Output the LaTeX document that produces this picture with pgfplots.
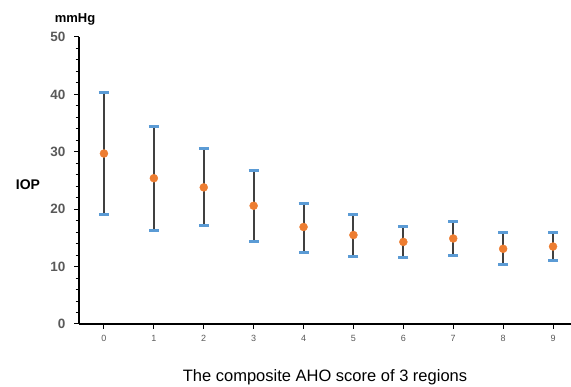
\documentclass[border=0pt]{standalone}
\usepackage{fontspec}
\setmainfont{Liberation Sans}
\usepackage{pgfplots}
\pgfplotsset{compat=1.18}
\definecolor{ptorange}{HTML}{ED7D31}
\definecolor{capblue}{HTML}{5B9BD5}
\definecolor{barcol}{HTML}{404040}
\definecolor{lblgray}{HTML}{595959}
\begin{document}
\begin{tikzpicture}[x=1pt,y=1pt]
\begin{axis}[at={(79pt,63pt)}, anchor=south west,
 scale only axis, width=492pt, height=287pt,
 xmin=-0.5, xmax=9.36, ymin=0, ymax=50,
 axis x line*=bottom, axis y line*=left,
 xtick={0,...,9}, ytick={0,10,...,50}, minor y tick num=4,
 tick align=outside, major tick length=5pt, minor tick length=3.5pt,
 tick style={black, line width=1pt},
 axis line style={black, line width=1.6pt},
 /pgf/number format/assume math mode=true,
 yticklabel style={font=\bfseries\fontsize{13.5}{13.5}\selectfont, text=lblgray, xshift=-5pt},
 xticklabel style={font=\fontsize{9}{9}\selectfont, text=lblgray, yshift=-3pt},
 clip=false]
\addplot[draw=none, mark=none, error bars/.cd, y dir=both, y explicit,
  error bar style={line width=2pt, color=barcol},
  error mark options={rotate=90, mark size=5pt, line width=3pt, color=capblue}]
coordinates {
 (0,29.7) += (0,10.6) -= (0,10.7)
 (1,25.4) += (0,9.0) -= (0,9.1)
 (2,23.8) += (0,6.7) -= (0,6.7)
 (3,20.6) += (0,6.2) -= (0,6.3)
 (4,16.9) += (0,4.1) -= (0,4.4)
 (5,15.5) += (0,3.5) -= (0,3.7)
 (6,14.3) += (0,2.7) -= (0,2.8)
 (7,14.9) += (0,2.9) -= (0,2.9)
 (8,13.1) += (0,2.8) -= (0,2.8)
 (9,13.5) += (0,2.4) -= (0,2.4)
};
\addplot[only marks, mark=*, mark size=4pt, mark options={fill=ptorange, draw=ptorange}]
coordinates {
 (0,29.7) (1,25.4) (2,23.8) (3,20.6) (4,16.9)
 (5,15.5) (6,14.3) (7,14.9) (8,13.1) (9,13.5)
};
\end{axis}
\node[font=\bfseries\fontsize{13}{13}\selectfont] at (75,368) {mmHg};
\node[font=\bfseries\fontsize{14}{14}\selectfont] at (28,202) {IOP};
\node[font=\fontsize{16.5}{16.5}\selectfont] at (325,10) {The composite AHO score of 3 regions};
\pgfresetboundingbox
\path (0,0) rectangle (571,387);
\end{tikzpicture}
\end{document}
